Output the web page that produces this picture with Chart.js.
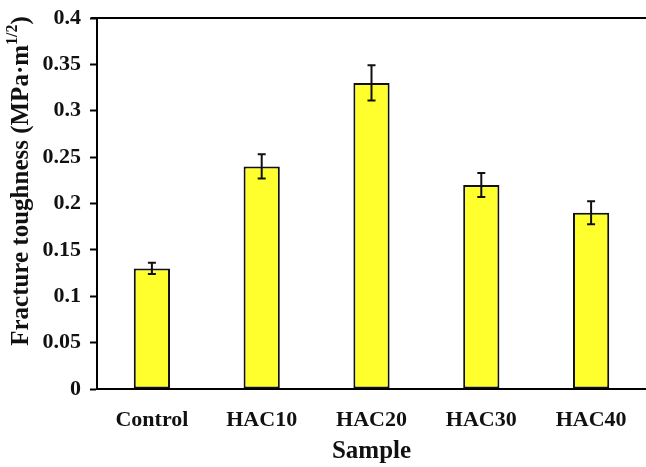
<!DOCTYPE html>
<html>
<head>
<meta charset="utf-8">
<script src="https://cdn.jsdelivr.net/npm/chart.js@4"></script>
<style>
  html, body { margin: 0; padding: 0; background: #fff; }
  #wrap { width: 646px; height: 467px; position: relative; }
</style>
</head>
<body>
<div id="wrap"><canvas id="toughChart"></canvas></div>
<script>
const categories = ['Control', 'HAC10', 'HAC20', 'HAC30', 'HAC40'];
const toughness = [0.13, 0.24, 0.33, 0.22, 0.19];
const errors = [0.006, 0.013, 0.019, 0.013, 0.0125];
const yTickValues = [0, 0.05, 0.1, 0.15, 0.2, 0.25, 0.3, 0.35, 0.4];

const FONT = "'Liberation Serif', 'Times New Roman', serif";

// error bars drawn on top of the bars
const errorBarPlugin = {
  id: 'errorBars',
  afterDatasetsDraw(chart) {
    const ctx = chart.ctx;
    const x = chart.scales.x, y = chart.scales.y;
    ctx.save();
    ctx.strokeStyle = '#111';
    ctx.lineWidth = 2;
    toughness.forEach((v, i) => {
      const px = x.getPixelForValue(i);
      const top = y.getPixelForValue(v + errors[i]);
      const bot = y.getPixelForValue(v - errors[i]);
      ctx.beginPath();
      ctx.moveTo(px, top); ctx.lineTo(px, bot);
      ctx.moveTo(px - 4, top); ctx.lineTo(px + 4, top);
      ctx.moveTo(px - 4, bot); ctx.lineTo(px + 4, bot);
      ctx.stroke();
    });
    ctx.restore();
  }
};

// top frame line + rotated y title with superscript
const framePlugin = {
  id: 'frame',
  afterDraw(chart) {
    const ctx = chart.ctx;
    const a = chart.chartArea;
    ctx.save();
    ctx.strokeStyle = '#000';
    ctx.lineWidth = 2;
    ctx.beginPath();
    ctx.moveTo(a.left - 6, a.top);
    ctx.lineTo(a.right, a.top);
    ctx.stroke();

    const main = 'Fracture toughness (MPa\u00b7m';
    const sup = '1/2';
    const end = ')';
    const big = 'bold 25px ' + FONT;
    const small = 'bold 16px ' + FONT;
    ctx.font = big;
    const w1 = ctx.measureText(main).width;
    const w3 = ctx.measureText(end).width;
    ctx.font = small;
    const w2 = ctx.measureText(sup).width;
    const total = w1 + w2 + w3;
    ctx.translate(22, 181);
    ctx.rotate(-Math.PI / 2);
    ctx.fillStyle = '#111';
    ctx.textBaseline = 'middle';
    ctx.textAlign = 'left';
    let sx = -total / 2;
    ctx.font = big;
    ctx.fillText(main, sx, 0);
    sx += w1;
    ctx.font = small;
    ctx.fillText(sup, sx, -9);
    sx += w2;
    ctx.font = big;
    ctx.fillText(end, sx, 0);
    ctx.restore();
  }
};

new Chart(document.getElementById('toughChart'), {
  type: 'bar',
  data: {
    labels: categories,
    datasets: [{
      data: toughness,
      backgroundColor: '#ffff2e',
      borderColor: '#111',
      borderWidth: 2,
      borderSkipped: false,
      barPercentage: 0.33,
      categoryPercentage: 1.0
    }]
  },
  options: {
    responsive: true,
    maintainAspectRatio: false,
    animation: false,
    layout: { padding: { top: 18, right: 0, left: 0, bottom: 0 } },
    plugins: {
      legend: { display: false },
      tooltip: { enabled: false }
    },
    scales: {
      x: {
        grid: { display: false },
        border: { display: true, color: '#000', width: 2 },
        ticks: {
          color: '#111',
          font: { family: FONT, size: 22, weight: 'bold' },
          padding: 10,
          maxRotation: 0
        },
        title: {
          display: true,
          text: 'Sample',
          color: '#111',
          font: { family: FONT, size: 25, weight: 'bold' },
          padding: { top: 2, bottom: 0 }
        },
        afterFit(scale) {
          scale.height = 78;
          scale.paddingLeft = 0;
          scale.paddingRight = 0;
        }
      },
      y: {
        min: 0,
        max: 0.4,
        afterBuildTicks(scale) {
          scale.ticks = yTickValues.map(v => ({ value: v }));
        },
        grid: {
          drawOnChartArea: false,
          drawTicks: true,
          tickLength: 7,
          tickWidth: 2,
          tickColor: '#000'
        },
        border: { display: true, color: '#000', width: 2 },
        ticks: {
          color: '#111',
          font: { family: FONT, size: 22, weight: 'bold' },
          padding: 9,
          callback: v => String(+v.toFixed(2))
        },
        afterFit(scale) {
          scale.width = 97;
          scale.paddingTop = 0;
          scale.paddingBottom = 0;
        }
      }
    }
  },
  plugins: [errorBarPlugin, framePlugin]
});
</script>
</body>
</html>
